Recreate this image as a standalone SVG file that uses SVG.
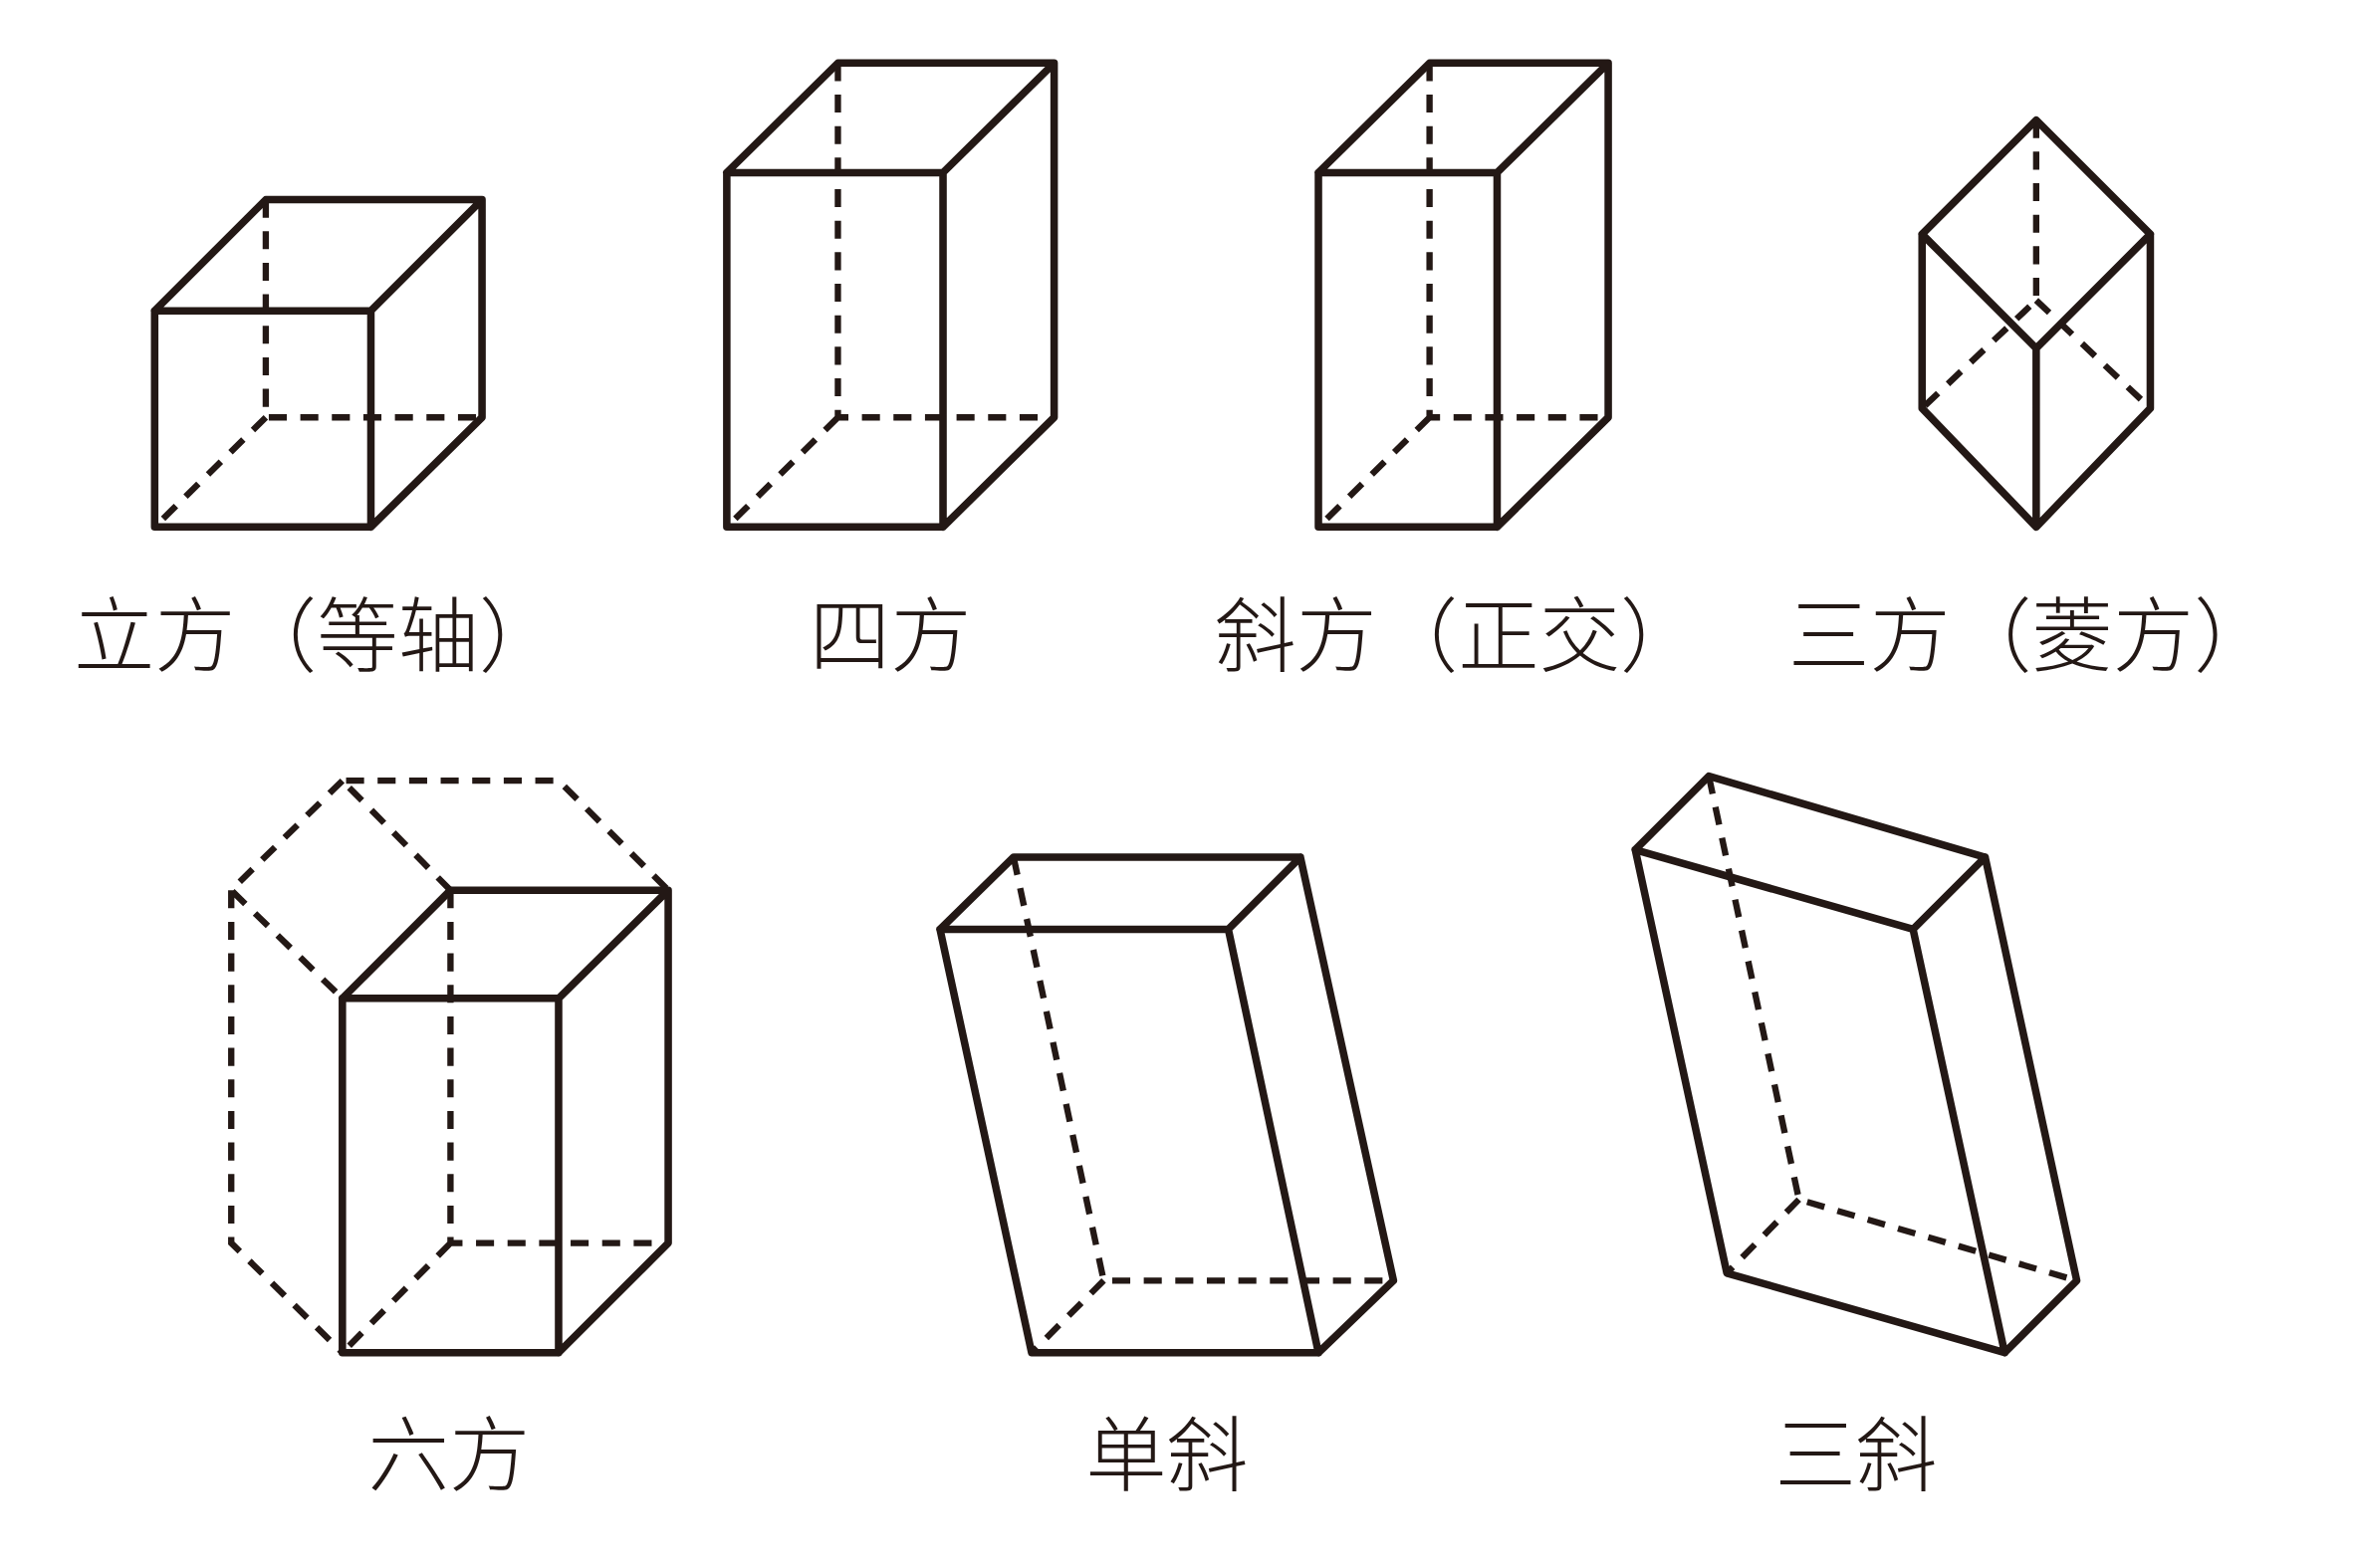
<svg xmlns="http://www.w3.org/2000/svg" width="2363" height="1575" viewBox="0 0 2363 1575">
<style>
.s{fill:none;stroke:#231815;stroke-width:5;stroke-linejoin:round;stroke-linecap:round}
.d{fill:none;stroke:#231815;stroke-width:4.2;stroke-dasharray:12 9}
text{font-family:"Noto Sans CJK SC",sans-serif;font-size:54px;fill:#231815;text-anchor:middle;font-weight:300}
</style>
<rect width="2363" height="1575" fill="#fff"/>
<g transform="scale(1.508)">
<g id="cubic">
<path class="d" d="M177,133V278H321M177,278L103,351"/>
<path class="s" d="M103,207H247V351H103Z M103,207L177,133H321L247,207 M321,133V278L247,351"/>
<text x="211" y="443">立方（等轴）</text>
</g>
<g id="tetragonal">
<path class="d" d="M558,42V278H702M558,278L484,351"/>
<path class="s" d="M484,115H628V351H484Z M484,115L558,42H702L628,115 M702,42V278L628,351"/>
<text x="593" y="443">四方</text>
</g>
<g id="orthorhombic">
<path class="d" d="M952,42V278H1071M952,278L878,351"/>
<path class="s" d="M878,115H997V351H878Z M878,115L952,42H1071L997,115 M1071,42V278L997,351"/>
<text x="971" y="443">斜方（正交）</text>
</g>
<g id="trigonal">
<path class="d" d="M1356,80V200L1280,272M1356,200L1432,272"/>
<path class="s" d="M1356,80L1280,156V272L1356,351L1432,272V156Z M1280,156L1356,232L1432,156 M1356,232V351"/>
<text x="1353" y="443">三方（菱方）</text>
</g>
<g id="hexagonal">
<path class="d" d="M300,593L228,520H372L445,593 M228,520L154,593L228,665 M300,593V828H445 M300,828L228,901 M154,593V828L228,901"/>
<path class="s" d="M228,665H372V901H228Z M228,665L300,593H445L372,665 M445,593V828L372,901"/>
<text x="299" y="989">六方</text>
</g>
<g id="monoclinic">
<path class="d" d="M675,571L735,853H928M735,853L687,901"/>
<path class="s" d="M626,619H818L878,901H687Z M626,619L675,571H866L818,619 M866,571L928,853L878,901"/>
<text x="777" y="989">单斜</text>
</g>
<g id="triclinic">
<path class="d" d="M1138,517L1198,799L1383,853M1198,799L1150,848"/>
<path class="s" d="M1089,566L1274,619L1335,901L1150,848Z M1089,566L1138,517L1322,571L1274,619 M1322,571L1383,853L1335,901"/>
<text x="1236" y="989">三斜</text>
</g>
</g>
</svg>
